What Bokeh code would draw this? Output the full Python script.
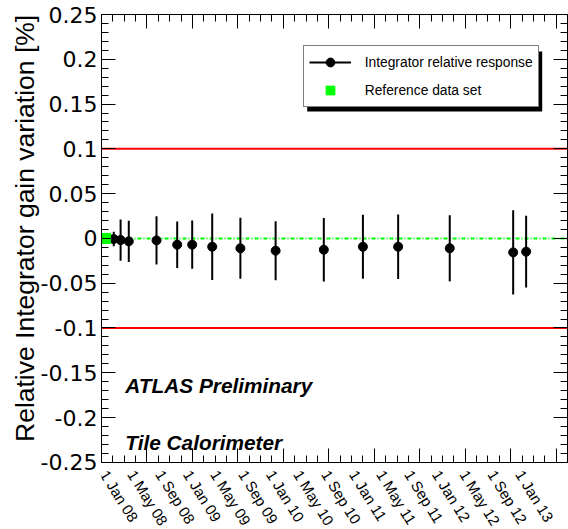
import numpy as np
import pandas as pd
from bokeh.plotting import figure
from bokeh.models import (ColumnDataSource, Range1d, LinearAxis, FixedTicker,
                          PrintfTickFormatter, Span, Label, LabelSet, Legend,
                          LegendItem, BoxAnnotation, Title)
from bokeh.core.properties import value
from bokeh.embed import file_html
from bokeh.resources import INLINE

# ---------------- data ----------------
ORIGIN = "2008-01-01"   # x axis: days since 1 Jan 2008

meas_dates = ["2008-02-24", "2008-03-25", "2008-04-30", "2008-08-30", "2008-11-29",
              "2009-02-03", "2009-05-02", "2009-09-03", "2010-02-05", "2010-09-05",
              "2011-02-24", "2011-07-29", "2012-03-12", "2012-12-16", "2013-02-11"]
meas_values = [-0.0007, -0.0018, -0.0033, -0.0022, -0.0070,
               -0.0070, -0.0093, -0.0110, -0.0137, -0.0126,
               -0.0093, -0.0093, -0.0110, -0.0156, -0.0148]
meas_errors = [0.008, 0.023, 0.023, 0.027, 0.026,
               0.027, 0.037, 0.034, 0.033, 0.0355,
               0.0357, 0.036, 0.037, 0.047, 0.040]

ref_dates = ["2008-01-19"]
ref_values = [0.0]

label_dates = ["2008-01-01", "2008-05-01", "2008-09-01", "2009-01-01", "2009-05-01",
               "2009-09-01", "2010-01-01", "2010-05-01", "2010-09-01", "2011-01-01",
               "2011-05-01", "2011-09-01", "2012-01-01", "2012-05-01", "2012-09-01",
               "2013-01-01"]
label_texts = ["1 Jan 08", "1 May 08", "1 Sep 08", "1 Jan 09", "1 May 09",
               "1 Sep 09", "1 Jan 10", "1 May 10", "1 Sep 10", "1 Jan 11",
               "1 May 11", "1 Sep 11", "1 Jan 12", "1 May 12", "1 Sep 12",
               "1 Jan 13"]

y_ticks = [-0.25, -0.2, -0.15, -0.1, -0.05, 0.0, 0.05, 0.1, 0.15, 0.2, 0.25]
limit_lines = [0.1, -0.1]

Y_MIN, Y_MAX = -0.25, 0.25
X_MAX = 2050          # days
X_MAJOR_STEP = 200    # days (frame tick marks)
X_MINOR_STEP = 50

# ---------------- layout constants ----------------
Y_VIEW_MIN = -0.325    # view extends below the axis so the date labels fit inside
LABEL_Y = -0.2603      # anchor of the rotated date labels
FRAME_BOTTOM_PX = 528  # frame bottom (from the top of the canvas)


def to_days(ds):
    return [int(d) for d in (pd.to_datetime(ds) - pd.Timestamp(ORIGIN)).days]


meas_x = to_days(meas_dates)
ref_x = to_days(ref_dates)
label_days = to_days(label_dates)

FONT = "Liberation Sans"
TICK_FONT = "DejaVu Sans"

p = figure(width=568, height=529, output_backend="svg", toolbar_location=None,
           title=None,
           x_range=Range1d(0, X_MAX), y_range=Range1d(Y_VIEW_MIN, Y_MAX),
           x_axis_location=None, y_axis_location=None,
           min_border_left=101, min_border_right=1, min_border_top=14,
           min_border_bottom=0)
p.xgrid.visible = False
p.ygrid.visible = False
p.outline_line_color = None
p.background_fill_color = "white"
p.border_fill_color = "white"

x_major = np.arange(0, X_MAX + 1, X_MAJOR_STEP).tolist()
x_minor = np.arange(0, X_MAX + 1, X_MINOR_STEP).tolist()
y_minor = np.round(np.arange(Y_MIN, Y_MAX + 0.0001, 0.01), 2).tolist()


def tick_only_axis(ticker, **kw):
    # frame tick marks only; labels are empty and not drawn
    return LinearAxis(ticker=ticker, formatter=PrintfTickFormatter(format=""),
                      major_tick_in=14, major_tick_out=0,
                      minor_tick_in=7, minor_tick_out=0,
                      major_label_text_font_size="1px",
                      major_label_text_color=None,
                      major_label_standoff=0, axis_label_standoff=0,
                      axis_line_color="black", **kw)


p.add_layout(tick_only_axis(FixedTicker(ticks=x_major, minor_ticks=x_minor),
                            fixed_location=Y_MIN), "below")
p.add_layout(tick_only_axis(FixedTicker(ticks=x_major, minor_ticks=x_minor)), "above")
p.add_layout(tick_only_axis(FixedTicker(ticks=y_ticks, minor_ticks=y_minor),
                            bounds=(Y_MIN, Y_MAX)), "right")

left_axis = LinearAxis(ticker=FixedTicker(ticks=y_ticks, minor_ticks=y_minor),
                       formatter=PrintfTickFormatter(format="%g"),
                       bounds=(Y_MIN, Y_MAX),
                       major_tick_in=14, major_tick_out=0,
                       minor_tick_in=7, minor_tick_out=0,
                       major_label_standoff=4,
                       major_label_text_font=TICK_FONT,
                       major_label_text_font_size="22px",
                       major_label_text_color="black",
                       axis_label_standoff=0,
                       axis_line_color="black")
p.add_layout(left_axis, "left")
p.add_layout(Title(text="Relative Integrator gain variation [%]", align="left",
                   text_font=FONT, text_font_style="normal", text_font_size="26.5px",
                   text_color="black", standoff=-4, offset=87.5), "left")

# date labels under the axis (rotated)
date_src = ColumnDataSource(dict(x=label_days, text=label_texts))
p.add_layout(LabelSet(x="x", y=LABEL_Y, text="text", source=date_src,
                      x_offset=2.5, angle=-58, angle_units="deg",
                      text_align="left", text_baseline="middle",
                      text_font=value(FONT), text_font_size="15px",
                      text_color="black"))

# reference lines
for v in limit_lines:
    p.add_layout(Span(location=v, dimension="width", line_color="#ff0000",
                      line_width=2, level="underlay"))
p.add_layout(Span(location=0, dimension="width", line_color="#00ff00",
                  line_width=2, line_dash="4 2 1 2", level="underlay"))

# data
src = ColumnDataSource(dict(
    x=meas_x, y=meas_values,
    lo=[v - e for v, e in zip(meas_values, meas_errors)],
    hi=[v + e for v, e in zip(meas_values, meas_errors)],
))
bars = p.segment(x0="x", y0="lo", x1="x", y1="hi", source=src,
                 line_color="black", line_width=2)
pts = p.scatter(x="x", y="y", source=src, marker="circle", size=9,
                fill_color="black", line_color="black")
ref = p.scatter(x=ref_x, y=ref_values, marker="square", size=10,
                fill_color="#00ff00", line_color="#00ff00")

# texts
p.add_layout(Label(x=105, y=-0.1644, text="ATLAS Preliminary", text_font=FONT,
                   text_font_style="bold italic", text_font_size="20.8px",
                   text_color="black", text_baseline="alphabetic"))
p.add_layout(Label(x=105, y=-0.228, text="Tile Calorimeter", text_font=FONT,
                   text_font_style="bold italic", text_font_size="20.8px",
                   text_color="black", text_baseline="alphabetic"))

# legend with a drop shadow (screen position measured from frame bottom-left)
LEG_X, LEG_W, LEG_H = 201.7, 235, 60
LEG_Y = FRAME_BOTTOM_PX - 106
shadow = BoxAnnotation(left=LEG_X + 4, right=LEG_X + LEG_W + 4,
                       bottom=LEG_Y - 4, top=LEG_Y + LEG_H - 4,
                       left_units="screen", right_units="screen",
                       top_units="screen", bottom_units="screen",
                       fill_color="black", fill_alpha=1, line_color=None)
p.add_layout(shadow)
legend = Legend(items=[LegendItem(label="Integrator relative response", renderers=[bars, pts]),
                       LegendItem(label="Reference data set", renderers=[ref])],
                location=(LEG_X, LEG_Y), margin=0, padding=5, spacing=6,
                glyph_width=42, glyph_height=22, label_height=22, label_standoff=14,
                label_text_font=FONT, label_text_font_size="13.8px",
                label_text_color="black",
                border_line_color="black", border_line_width=1,
                background_fill_color="white", background_fill_alpha=1)
p.add_layout(legend)

open("out.html", "w").write(file_html(p, INLINE))
